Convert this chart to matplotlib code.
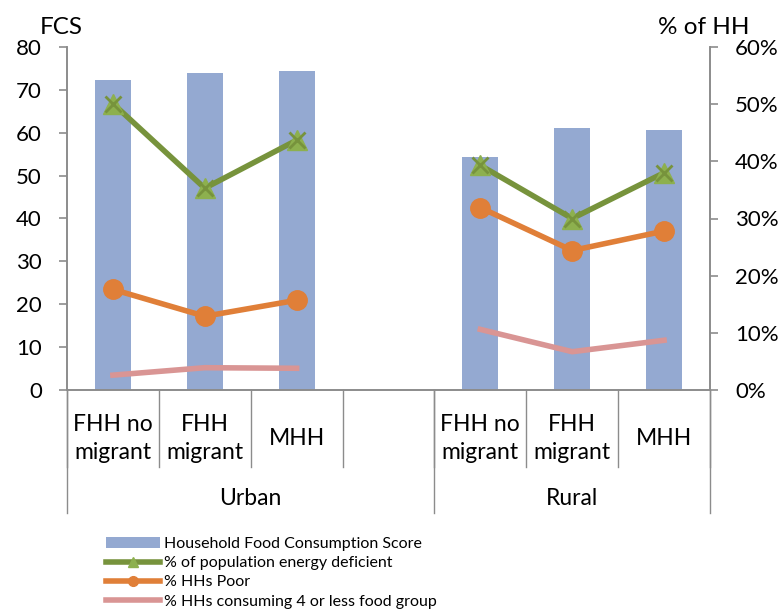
import numpy as np
import matplotlib.pyplot as plt
from matplotlib.lines import Line2D
from matplotlib.patches import Patch
from matplotlib.ticker import FuncFormatter

plt.rcParams['font.family'] = ['Lato', 'DejaVu Sans']

# categories (4th slot is the empty gap between Urban and Rural)
cats = ["FHH no\nmigrant", "FHH\nmigrant", "MHH", "", "FHH no\nmigrant", "FHH\nmigrant", "MHH"]
groups = ["Urban", "Rural"]
nan = np.nan
fcs = [72.4, 74.0, 74.4, nan, 54.4, 61.2, 60.6]
energy_def = [50.1, 35.3, 43.7, nan, 39.3, 30.0, 38.0]
hh_poor = [17.6, 12.9, 15.7, nan, 31.9, 24.4, 27.8]
hh_4less = [2.6, 3.9, 3.8, nan, 10.6, 6.7, 8.7]

c_bar = "#94A9D1"
c_green = "#77933C"
c_green_m = "#8DB04E"
c_orange = "#E07F38"
c_pink = "#D99594"
c_axis = "#8C8C8C"

fig = plt.figure(figsize=(7.78, 6.12), dpi=100)
ax = fig.add_axes([67/778, 1-390/612, 643/778, 343/612])
ax2 = ax.twinx()

x = np.arange(len(cats))
ax.bar(x, fcs, width=0.39, color=c_bar, zorder=1)
ax.set_xlim(-0.5, len(cats) - 0.5)
ax.set_ylim(0, 80)
ax.set_yticks(range(0, 81, 10))

ax2.plot(x, energy_def, color=c_green, lw=4, marker="^", ms=15, mfc=c_green_m, mec=c_green_m, zorder=3)
ax2.plot(x, energy_def, ls="none", marker="x", ms=12, mew=2, color=c_green, zorder=4)
ax2.plot(x, hh_poor, color=c_orange, lw=4, marker="o", ms=14, zorder=3)
ax2.plot(x, hh_4less, color=c_pink, lw=4, zorder=3)
ax2.set_ylim(0, 60)
ax2.set_yticks(range(0, 61, 10))
ax2.yaxis.set_major_formatter(FuncFormatter(lambda v, p: f"{int(v)}%"))

for a in (ax, ax2):
    a.spines["top"].set_visible(False)
    for s in ("left", "right", "bottom"):
        a.spines[s].set_color(c_axis)
        a.spines[s].set_linewidth(1.2)
    a.tick_params(axis="y", colors=c_axis, labelcolor="black", labelsize=16, length=6, width=1.2)
ax.tick_params(axis="y", pad=12)
ax2.tick_params(axis="y", pad=12)

# category axis drawn like Excel's multi-level labels
ax.set_xticks([])
trans = ax.get_xaxis_transform()
for b in np.arange(-0.5, len(cats), 1.0):
    ax.plot([b, b], [0, -0.225], transform=trans, color=c_axis, lw=1, clip_on=False)
for b in (-0.5, 3.5, len(cats) - 0.5):
    ax.plot([b, b], [0, -0.36], transform=trans, color=c_axis, lw=1, clip_on=False)
for i, c in enumerate(cats):
    ax.text(i, -0.142, c, transform=trans, ha="center", va="center", fontsize=16.5, linespacing=1.38)
ax.text(1.5, -0.315, groups[0], transform=trans, ha="center", va="center", fontsize=16.5)
ax.text(5.0, -0.315, groups[1], transform=trans, ha="center", va="center", fontsize=16.5)

fig.text(40/778, 1-28/612, "FCS", fontsize=17.5, va="center", ha="left")
fig.text(749/778, 1-28/612, "% of HH", fontsize=17.5, va="center", ha="right")

handles = [
    Patch(facecolor=c_bar, edgecolor="none"),
    Line2D([], [], color=c_green, lw=4, marker="^", ms=7, mfc=c_green_m, mec=c_green_m),
    Line2D([], [], color=c_orange, lw=4, marker="o", ms=7),
    Line2D([], [], color=c_pink, lw=4),
]
labels = ["Household Food Consumption Score", "% of population energy deficient",
          "% HHs Poor", "% HHs consuming 4 or less food group"]
fig.legend(handles, labels, loc="upper left", bbox_to_anchor=(106/778, 1-537/612),
           frameon=False, fontsize=11.5, handlelength=3.4, handleheight=0.7,
           handletextpad=0.2, labelspacing=0.31, borderpad=0, borderaxespad=0)

fig.savefig("out.png", dpi=100)
